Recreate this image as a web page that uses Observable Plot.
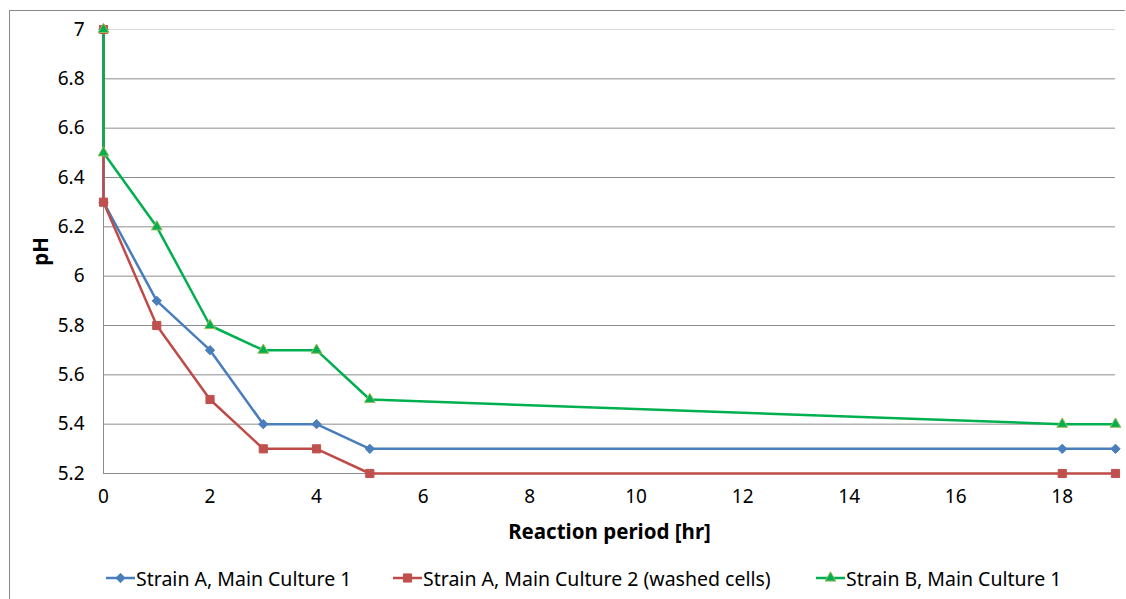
<!DOCTYPE html>
<html>
<head>
<meta charset="utf-8">
<script src="https://cdn.jsdelivr.net/npm/d3@7"></script>
<script src="https://cdn.jsdelivr.net/npm/@observablehq/plot@0.6"></script>
<style>
  html, body { margin: 0; padding: 0; background: #fff; }
  #wrap { position: relative; width: 1126px; height: 599px; font-family: "Noto Sans", sans-serif; }
  #frame { position: absolute; left: 9px; top: 10px; width: 1116px; height: 589px; border: 1px solid #888; border-right: none; border-bottom: none; box-sizing: border-box; pointer-events: none; }
  #chart { position: absolute; left: 0; top: 0; }
  #legend { position: absolute; top: 564px; left: 0; width: 1126px; height: 28px; }
  .item { position: absolute; top: 0; display: flex; align-items: center; font-size: 19.5px; color: #000; height: 28px; }
  .item svg { margin-right: 1px; }
</style>
</head>
<body>
<div id="wrap">
  <div id="chart"></div>
  <div id="legend"></div>
  <div id="frame"></div>
</div>
<script>
// Sampling times in hours (two readings were taken at time 0)
const hours = [0, 0, 1, 2, 3, 4, 5, 18, 19];
const seriesNames = [
  "Strain A, Main Culture 1",
  "Strain A, Main Culture 2 (washed cells)",
  "Strain B, Main Culture 1"
];
const phStrainA1 = [7, 6.3, 5.9, 5.7, 5.4, 5.4, 5.3, 5.3, 5.3];
const phStrainA2 = [7, 6.3, 5.8, 5.5, 5.3, 5.3, 5.2, 5.2, 5.2];
const phStrainB1 = [7, 6.5, 6.2, 5.8, 5.7, 5.7, 5.5, 5.4, 5.4];
const xTicks = [0, 2, 4, 6, 8, 10, 12, 14, 16, 18];
const yTicks = [5.2, 5.4, 5.6, 5.8, 6, 6.2, 6.4, 6.6, 6.8, 7];

const styles = [
  {line: "#4A7EBB", fill: "#4A7EBB", stroke: "#4A7EBB", symbol: "diamond2", r: 4.2},
  {line: "#BE4B48", fill: "#C0504D", stroke: "#C0504D", symbol: "square", r: 4.6},
  {line: "#00B050", fill: "#00B050", stroke: "#9BBB59", symbol: "triangle", r: 4.0}
];

const allSeries = [phStrainA1, phStrainA2, phStrainB1];
const rows = allSeries.flatMap((vals, s) =>
  vals.map((v, i) => ({series: seriesNames[s], idx: s, hour: hours[i], ph: v}))
);

const fmt = d => String(+d.toFixed(1));

const marks = [
  Plot.ruleY(yTicks.filter(d => d < 7), {y: d => d, stroke: "#8c8c8c", strokeWidth: 1}),
  Plot.ruleY([7], {stroke: "#d9d9d9", strokeWidth: 1}),
  Plot.ruleX([0], {stroke: "#8c8c8c", strokeWidth: 1}),
  Plot.axisX({ticks: xTicks, tickSize: 0, tickPadding: 16, fontSize: 19, tickFormat: d => String(d),
    label: "Reaction period [hr]", labelAnchor: "center", labelArrow: "none", labelOffset: 65}),
  Plot.axisY({ticks: yTicks, tickSize: 0, tickPadding: 19, fontSize: 19, tickFormat: fmt,
    label: "pH", labelAnchor: "center", labelArrow: "none", labelOffset: 70})
];
styles.forEach((st, s) => {
  const data = rows.filter(d => d.idx === s);
  marks.push(Plot.line(data, {x: "hour", y: "ph", stroke: st.line, strokeWidth: 2.5}));
});
styles.forEach((st, s) => {
  const data = rows.filter(d => d.idx === s);
  marks.push(Plot.dot(data, {x: "hour", y: "ph", symbol: () => st.symbol, fill: st.fill,
    stroke: st.stroke, strokeWidth: 1, r: st.r}));
});

const chart = Plot.plot({
  width: 1126,
  height: 556,
  marginLeft: 103,
  marginRight: 11,
  marginTop: 29,
  marginBottom: 83,
  style: {fontFamily: "'Noto Sans', sans-serif", fontSize: "19px", color: "#000", background: "transparent"},
  x: {domain: [0, 19]},
  y: {domain: [5.2, 7]},
  symbol: {type: "identity"},
  marks
});
// bold axis titles
chart.querySelectorAll("[aria-label='x-axis label'] text, [aria-label='y-axis label'] text").forEach(t => {
  t.setAttribute("font-weight", "bold");
  t.setAttribute("font-size", "20.5");
});
document.getElementById("chart").appendChild(chart);

// Legend below the chart
const legendPos = [106, 393, 816];
const legend = document.getElementById("legend");
const ns = "http://www.w3.org/2000/svg";
styles.forEach((st, s) => {
  const item = document.createElement("div");
  item.className = "item";
  item.style.left = legendPos[s] + "px";
  const svg = document.createElementNS(ns, "svg");
  svg.setAttribute("width", 29);
  svg.setAttribute("height", 14);
  const ln = document.createElementNS(ns, "line");
  ln.setAttribute("x1", 0); ln.setAttribute("x2", 29);
  ln.setAttribute("y1", 7); ln.setAttribute("y2", 7);
  ln.setAttribute("stroke", st.line); ln.setAttribute("stroke-width", 2.5);
  svg.appendChild(ln);
  const p = document.createElementNS(ns, "path");
  const sym = {diamond2: d3.symbolDiamond2, square: d3.symbolSquare, triangle: d3.symbolTriangle}[st.symbol];
  p.setAttribute("d", d3.symbol(sym, st.r * st.r * Math.PI)());
  p.setAttribute("transform", "translate(14.5,7)");
  p.setAttribute("fill", st.fill);
  p.setAttribute("stroke", st.stroke);
  svg.appendChild(p);
  item.appendChild(svg);
  const span = document.createElement("span");
  span.textContent = seriesNames[s];
  item.appendChild(span);
  legend.appendChild(item);
});
</script>
</body>
</html>
